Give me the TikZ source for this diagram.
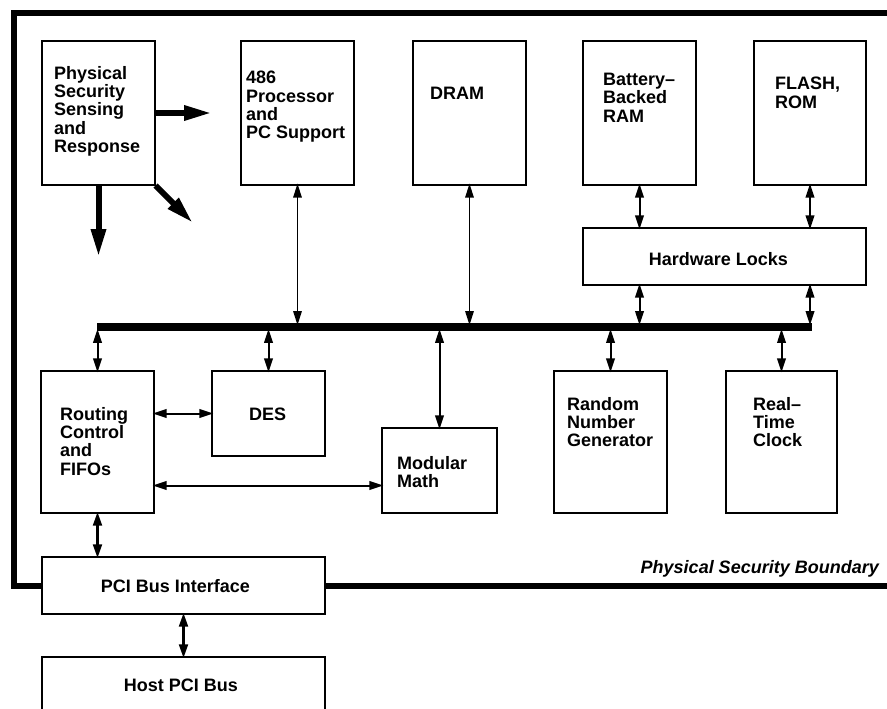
\documentclass[tikz,border=0pt]{standalone}
\usepackage{fontspec}
\setmainfont{Liberation Sans}
\usetikzlibrary{arrows.meta}
\begin{document}
\begin{tikzpicture}[x=1pt,y=-1pt,
  blk/.style={draw, line width=1.2pt, fill=white, inner sep=0pt},
  txt/.style={inner sep=0pt, align=left, font=\bfseries\fontsize{18}{18.3}\selectfont},
  ital/.style={inner sep=0pt, font=\bfseries\itshape\fontsize{18}{18.3}\selectfont},
  tip/.style={{Triangle[length=14pt,width=8.5pt]}-{Triangle[length=14pt,width=8.5pt]}, shorten <=-2pt, shorten >=-2pt},
  bi/.style={line width=2pt, tip},
  thinbi/.style={line width=1.4pt, tip},
  fatbi/.style={line width=3pt, tip},
  fat/.style={line width=6pt, -{Triangle[length=28pt,width=14pt]}},
  bound/.style={line width=6.5pt},
]
\useasboundingbox (0,0) rectangle (887,709);
\clip (0,0) rectangle (887,709);

% boundary
\draw[bound] (900,13) -- (14,13) -- (14,586) -- (42,586);
\draw[bound] (325,586) -- (900,586);

% boxes
\node[blk, minimum width=113pt, minimum height=144pt] (ps) at (98.5,113) {};
\node[blk, minimum width=113pt, minimum height=144pt] (cpu) at (297.5,113) {};
\node[blk, minimum width=113pt, minimum height=144pt] (dram) at (469.5,113) {};
\node[blk, minimum width=113pt, minimum height=144pt] (bat) at (639.5,113) {};
\node[blk, minimum width=112pt, minimum height=144pt] (flash) at (810,113) {};
\node[blk, minimum width=283pt, minimum height=57pt] (hw) at (724.5,256.5) {};
\node[blk, minimum width=113pt, minimum height=142pt] (rout) at (97.5,442) {};
\node[blk, minimum width=113pt, minimum height=85pt] (des) at (268.5,413.5) {};
\node[blk, minimum width=115pt, minimum height=85pt] (mod) at (439.5,470.5) {};
\node[blk, minimum width=113pt, minimum height=142pt] (rng) at (610.5,442) {};
\node[blk, minimum width=111pt, minimum height=142pt] (rtc) at (781.5,442) {};
\node[blk, minimum width=283pt, minimum height=57pt] (pci) at (183.5,585.5) {};
\node[blk, minimum width=283pt, minimum height=57pt] (host) at (183.5,685.5) {};

% thick arrows from physical security
\coordinate (psR) at (212,113);
\coordinate (psD) at (98.5,257);
\coordinate (psDg) at (193,223);
\draw[fat] (ps.east) -- (psR);
\draw[fat] (ps.south) -- (psD);
\draw[fat] (ps.south east) -- (psDg);

% bus
\node[fill=black, inner sep=0pt, minimum width=715pt, minimum height=7.4pt] (bus) at (454.5,327) {};

% connectors upper
\draw[thinbi] (cpu.south) -- (cpu.south |- bus.north);
\draw[thinbi] (dram.south) -- (dram.south |- bus.north);
\draw[bi] (bat.south) -- (bat.south |- hw.north);
\draw[bi] (flash.south) -- (flash.south |- hw.north);
\draw[bi] (hw.south -| bat.south) -- (bat.south |- bus.north);
\draw[bi] (hw.south -| flash.south) -- (flash.south |- bus.north);

% connectors lower
\draw[bi] (bus.south -| rout.north) -- (rout.north);
\draw[bi] (bus.south -| des.north) -- (des.north);
\draw[bi] (bus.south -| mod.north) -- (mod.north);
\draw[bi] (bus.south -| rng.north) -- (rng.north);
\draw[bi] (bus.south -| rtc.north) -- (rtc.north);
\draw[bi] (des.west -| rout.east) -- (des.west);
\coordinate (mw) at ([yshift=-15pt]mod.west);
\draw[bi] (mw -| rout.east) -- (mw);
\draw[fatbi] (rout.south) -- (rout.south |- pci.north);
\draw[fatbi] (pci.south) -- (host.north);

% texts
\node[txt, anchor=north west] (tps) at (54,66) {Physical\\Security\\Sensing\\and\\Response};
\node[txt, anchor=north west] (tcpu) at (246,71) {486\\Processor\\and\\PC Support};
\node[txt, anchor=north west] (tdram) at (430,87) {DRAM};
\node[txt, anchor=north west] (tbat) at (603,73) {Battery–\\Backed\\RAM};
\node[txt, anchor=north west] (tflash) at (775,77) {FLASH,\\ROM};
\node[txt, anchor=base] (thw) at (718.5,265.7) {Hardware Locks};
\node[txt, anchor=north west] (trout) at (60,407) {Routing\\Control\\and\\FIFOs};
\node[txt, anchor=base west] (tdes) at (249,420.7) {DES};
\node[txt, anchor=north west] (tmod) at (397,456) {Modular\\Math};
\node[txt, anchor=north west] (trng) at (567,397) {Random\\Number\\Generator};
\node[txt, anchor=north west] (trtc) at (753,397) {Real–\\Time\\Clock};
\node[txt, anchor=base] (tpci) at (175.5,592.7) {PCI Bus Interface};
\node[txt, anchor=base] (thost) at (181,691.7) {Host PCI Bus};
\node[ital, anchor=base east] (tbound) at (879,573) {Physical Security Boundary};
\end{tikzpicture}
\end{document}
